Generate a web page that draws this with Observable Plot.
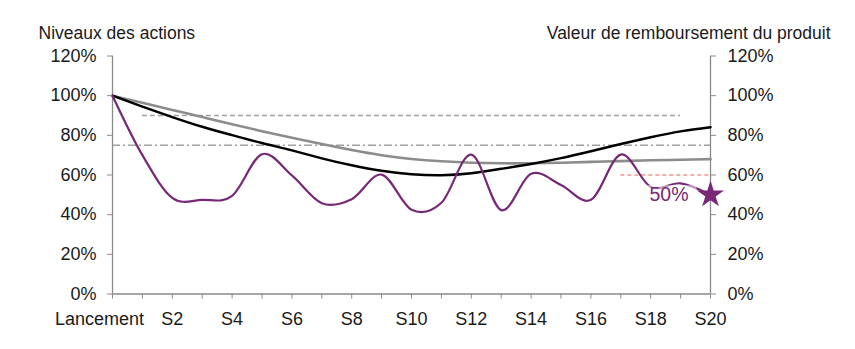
<!DOCTYPE html>
<html><head><meta charset="utf-8">
<script src="https://cdn.jsdelivr.net/npm/d3@7"></script>
<script src="https://cdn.jsdelivr.net/npm/@observablehq/plot@0.6"></script>
<style>
body{margin:0;background:#fff}
#chart{width:855px;height:349px}
</style>
</head><body><div id="chart"></div>
<script>
// Categories / tick labels
const steps = ["Lancement","S1","S2","S3","S4","S5","S6","S7","S8","S9","S10",
  "S11","S12","S13","S14","S15","S16","S17","S18","S19","S20"];
const yTicks = [0, 20, 40, 60, 80, 100, 120];
// Series (% of initial level)
const actions = [100, 70, 48.5, 47.5, 49.5, 70.5, 59.8, 45.8, 47.8, 60.2, 42.5,
  46, 70.3, 42.3, 60.6, 55, 47.5, 70.3, 54, 55.8, 50];
const courbeNoire = [100, 94.5, 89.2, 84.3, 80.1, 76.1, 72.4, 68.4, 64.9, 62.1, 60.4,
  59.9, 60.9, 63.1, 65.6, 68.5, 72, 75.6, 79, 82, 84.1];
const courbeGrise = [100, 96.4, 92.8, 89.2, 85.6, 82.1, 78.8, 75.6, 72.6, 70, 68.1,
  66.9, 66.2, 65.9, 65.9, 66.2, 66.6, 67, 67.4, 67.7, 68];
// Barrier levels and the steps they span
const barrierLevels = [90, 75, 60];
const barrierFrom = [1, 0, 17];
const barrierTo = [19, 20, 20];
const titleLeft = "Niveaux des actions";
const titleRight = "Valeur de remboursement du produit";

const purple = "#772877";
const axisGray = "#8a8a8a";
const textColor = "#1a1a1a";
const barrierStyles = [
  {stroke: "#a0a0a0", strokeWidth: 1.5, strokeDasharray: "5,3"},
  {stroke: "#a0a0a0", strokeWidth: 1.3, strokeDasharray: "8,3,2,3"},
  {stroke: "#e8605a", strokeWidth: 1.2, strokeDasharray: "4,3"}
];

const idx = (d, i) => i;
const val = d => d;

const marks = [];
barrierLevels.forEach((lv, k) => {
  marks.push(Plot.ruleY([{y: lv, x1: barrierFrom[k], x2: barrierTo[k]}],
    {y: "y", x1: "x1", x2: "x2", ...barrierStyles[k]}));
});
marks.push(
  Plot.ruleX([0, steps.length - 1], {stroke: axisGray, strokeWidth: 1.3}),
  Plot.ruleY([0], {stroke: axisGray, strokeWidth: 1.3}),
  Plot.line(courbeGrise, {x: idx, y: val, curve: "natural", stroke: "#8c8c8c", strokeWidth: 2.6}),
  Plot.line(courbeNoire, {x: idx, y: val, curve: "natural", stroke: "#000", strokeWidth: 2.5}),
  Plot.line(actions, {x: idx, y: val, curve: "cardinal", stroke: purple, strokeWidth: 2.2}),
  Plot.text([steps.length - 1], {x: d => d, y: d => actions[d], text: d => actions[d] + "%",
    textAnchor: "end", dx: -22, fill: purple, fontSize: 19.5, className: "lbl50"}),
  Plot.dot([steps.length - 1], {x: d => d, y: d => actions[d], symbol: "star", r: 8.5, fill: purple, stroke: null}),
  Plot.axisY({anchor: "left", ticks: yTicks, tickFormat: d => d + "%", tickSize: 5, tickPadding: 11,
    stroke: axisGray, fill: textColor, label: null, fontSize: 18}),
  Plot.axisY({anchor: "right", ticks: yTicks, tickFormat: d => d + "%", tickSize: 5, tickPadding: 12,
    stroke: axisGray, fill: textColor, label: null, fontSize: 18}),
  Plot.axisX({ticks: d3.range(0, steps.length), tickFormat: i => (i > 0 && i % 2 === 0) ? steps[i] : "",
    tickSize: 5, tickPadding: 13, stroke: axisGray, fill: textColor, label: null, fontSize: 18}),
  Plot.axisX({ticks: [0], tickFormat: i => steps[i], tickSize: 0, tickPadding: 18, dx: -13,
    fill: textColor, label: null, fontSize: 18}),
  Plot.text([titleLeft], {text: d => d, frameAnchor: "top-left", textAnchor: "start", dx: -74, dy: -29,
    fill: textColor, fontSize: 17.5}),
  Plot.text([titleRight], {text: d => d, frameAnchor: "top-right", textAnchor: "end", dx: 120, dy: -29,
    fill: textColor, fontSize: 17.5})
);

const chart = Plot.plot({
  width: 855, height: 349,
  marginLeft: 112, marginRight: 145, marginTop: 55.5, marginBottom: 55.5,
  x: {type: "linear", domain: [0, steps.length - 1]},
  y: {domain: [0, 120]},
  style: {fontFamily: "'Liberation Sans', Arial, sans-serif", fontSize: "18px", background: "#fff", color: textColor},
  marks
});
document.getElementById("chart").appendChild(chart);

// Semi-transparent white box behind the "50%" label (lightens the line underneath)
const lbl = chart.querySelector(".lbl50");
if (lbl) {
  const t = lbl.querySelector("text");
  const b = t.getBBox();
  const rect = document.createElementNS("http://www.w3.org/2000/svg", "rect");
  const tr = t.getAttribute("transform");
  if (tr) rect.setAttribute("transform", tr);
  rect.setAttribute("x", b.x - 6);
  rect.setAttribute("y", b.y + 2);
  rect.setAttribute("width", b.width + 14);
  rect.setAttribute("height", b.height - 2);
  rect.setAttribute("fill", "#fff");
  rect.setAttribute("fill-opacity", "0.5");
  lbl.insertBefore(rect, t);
}
</script>
</body></html>
